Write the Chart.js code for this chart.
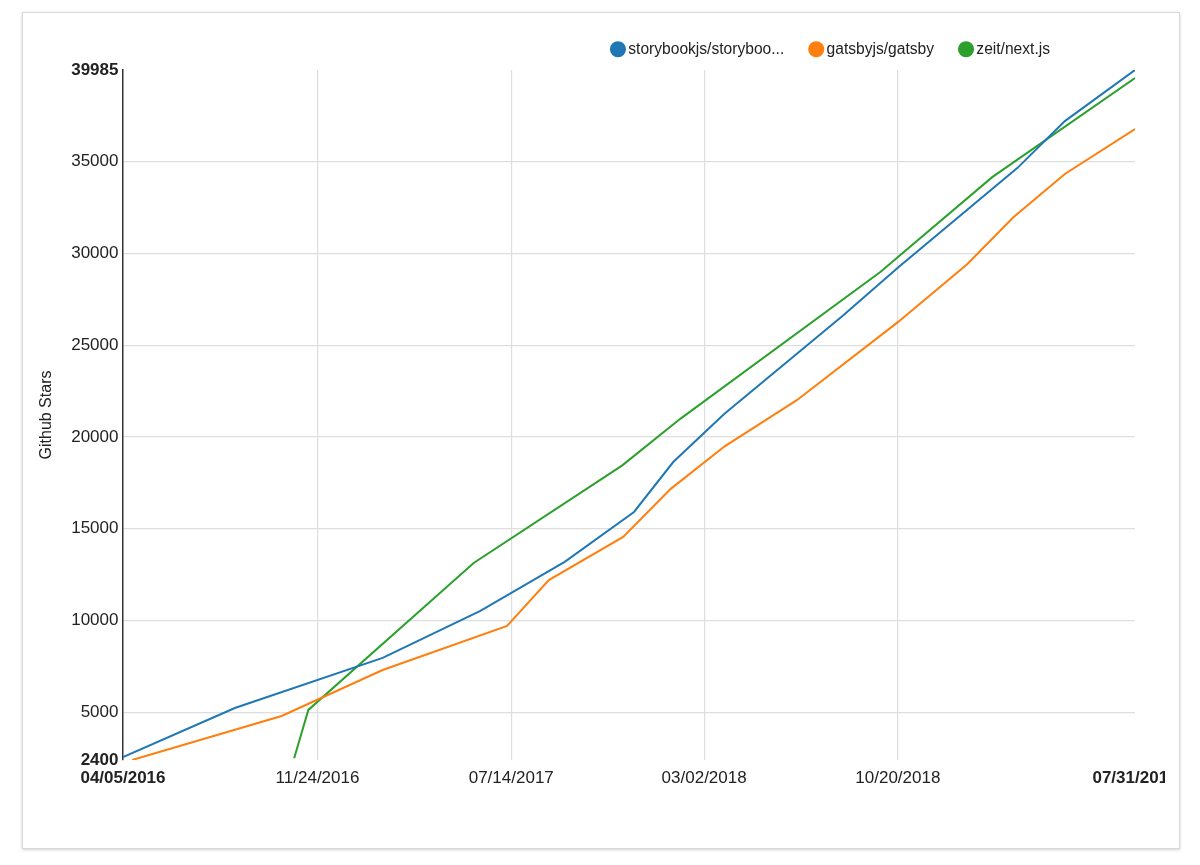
<!DOCTYPE html>
<html><head><meta charset="utf-8">
<script src="https://cdn.jsdelivr.net/npm/chart.js@4/dist/chart.umd.min.js"></script>
<style>
html,body{margin:0;padding:0;background:#fff;}
#frame{position:absolute;left:22px;top:12px;width:1156px;height:835px;border:1px solid #d9d9d9;box-shadow:0 1px 3px rgba(0,0,0,0.18);background:#fff;}
#c{position:absolute;left:0;top:0;clip-path:inset(0 35px 0 0);}
</style></head><body>
<div id="frame"></div>
<canvas id="c" width="1200" height="865"></canvas>
<script>
// ---- data ----
const seriesLabels = ['storybookjs/storyboo...', 'gatsbyjs/gatsby', 'zeit/next.js'];
const seriesColors = ['#1f77b4', '#ff7f0e', '#2ca02c'];

const storybookDates = ['2016-04-05','2016-08-17','2017-02-10','2017-06-07','2017-09-16','2017-12-08','2018-01-24','2018-03-26','2018-08-15','2018-10-21','2019-03-12','2019-05-08','2019-07-31'];
const storybookStars = [2560,5230,7960,10520,13190,15910,18630,21250,26600,29250,34640,37200,39985];

const gatsbyDates = ['2016-04-16','2016-10-12','2017-02-10','2017-07-09','2017-08-28','2017-11-25','2018-01-21','2018-03-27','2018-06-21','2018-10-20','2019-01-11','2019-03-07','2019-05-08','2019-07-31'];
const gatsbyStars = [2400,4800,7300,9700,12200,14550,17170,19500,22000,26250,29400,31950,34320,36770];

const nextDates = ['2016-10-27','2016-11-13','2017-05-30','2017-11-24','2018-02-01','2018-09-29','2019-02-10','2019-07-31'];
const nextStars = [2500,5130,13130,18450,20970,28980,34150,39550];

const xTickDates = ['2016-04-05','2016-11-24','2017-07-14','2018-03-02','2018-10-20','2019-07-31'];
const yTickValues = [2400,5000,10000,15000,20000,25000,30000,35000,39985];
const yAxisTitle = 'Github Stars';

// ---- helpers ----
const toMs = s => { const [y,m,d] = s.split('-').map(Number); return Date.UTC(y, m-1, d); };
const fmt = v => { const d = new Date(v); const p = n => String(n).padStart(2,'0'); return p(d.getUTCMonth()+1) + '/' + p(d.getUTCDate()) + '/' + d.getUTCFullYear(); };
const pts = (dates, vals) => dates.map((d,i) => ({x: toMs(d), y: vals[i]}));

const allSeries = [pts(storybookDates, storybookStars), pts(gatsbyDates, gatsbyStars), pts(nextDates, nextStars)];
const FONT = "'Liberation Sans', Arial, sans-serif";

const legendTweak = {
  id: 'legendTweak',
  beforeInit(chart) {
    const fit = chart.legend.fit;
    chart.legend.fit = function () { fit.call(this); this.height += 2.9; };
  },
  afterLayout(chart) { chart.legend.right = 1079.5; }
};

new Chart(document.getElementById('c'), {
  type: 'line',
  data: {
    datasets: allSeries.map((data, i) => ({
      label: seriesLabels[i],
      data,
      borderColor: seriesColors[i],
      backgroundColor: seriesColors[i],
      borderWidth: 2,
      pointRadius: 0,
      pointHoverRadius: 0,
      tension: 0,
      fill: false
    }))
  },
  options: {
    responsive: false,
    animation: false,
    layout: { padding: { left: 35.4, right: 65, top: 12, bottom: 69 } },
    plugins: {
      legend: {
        position: 'top',
        align: 'end',
        labels: {
          usePointStyle: true,
          pointStyle: 'circle',
          boxWidth: 5,
          boxHeight: 10,
          padding: 29.5,
          color: '#222',
          font: { family: FONT, size: 15.6 }
        }
      },
      tooltip: { enabled: false }
    },
    scales: {
      x: {
        type: 'linear',
        min: toMs(xTickDates[0]),
        max: toMs(xTickDates[xTickDates.length - 1]),
        afterBuildTicks: s => { s.ticks = xTickDates.map(d => ({ value: toMs(d) })); },
        ticks: {
          autoSkip: false, maxRotation: 0, minRotation: 0,
          padding: 7.8,
          color: '#222',
          font: c => ({ family: FONT, size: 17, weight: (c.index === 0 || c.index === xTickDates.length - 1) ? 'bold' : 'normal' }),
          callback: v => fmt(v)
        },
        grid: {
          drawTicks: false,
          color: c => (c.index === 0 || c.index === xTickDates.length - 1) ? 'rgba(0,0,0,0)' : '#dedede',
          lineWidth: 1.2
        },
        border: { display: false }
      },
      y: {
        type: 'linear',
        min: yTickValues[0],
        max: yTickValues[yTickValues.length - 1],
        afterBuildTicks: s => { s.ticks = yTickValues.map(v => ({ value: v })); },
        ticks: {
          padding: 4.5,
          color: '#222',
          font: c => ({ family: FONT, size: 17, weight: (c.index === 0 || c.index === yTickValues.length - 1) ? 'bold' : 'normal' }),
          callback: v => String(v)
        },
        grid: {
          drawTicks: false,
          color: c => (c.index === 0 || c.index === yTickValues.length - 1) ? 'rgba(0,0,0,0)' : '#dedede',
          lineWidth: 1.2
        },
        border: { display: true, color: '#333', width: 1.5 },
        title: {
          display: true, text: yAxisTitle, color: '#222',
          font: { family: FONT, size: 16 },
          padding: { top: 2, bottom: 10.1 }
        }
      }
    }
  },
  plugins: [legendTweak]
});
</script>
</body></html>
